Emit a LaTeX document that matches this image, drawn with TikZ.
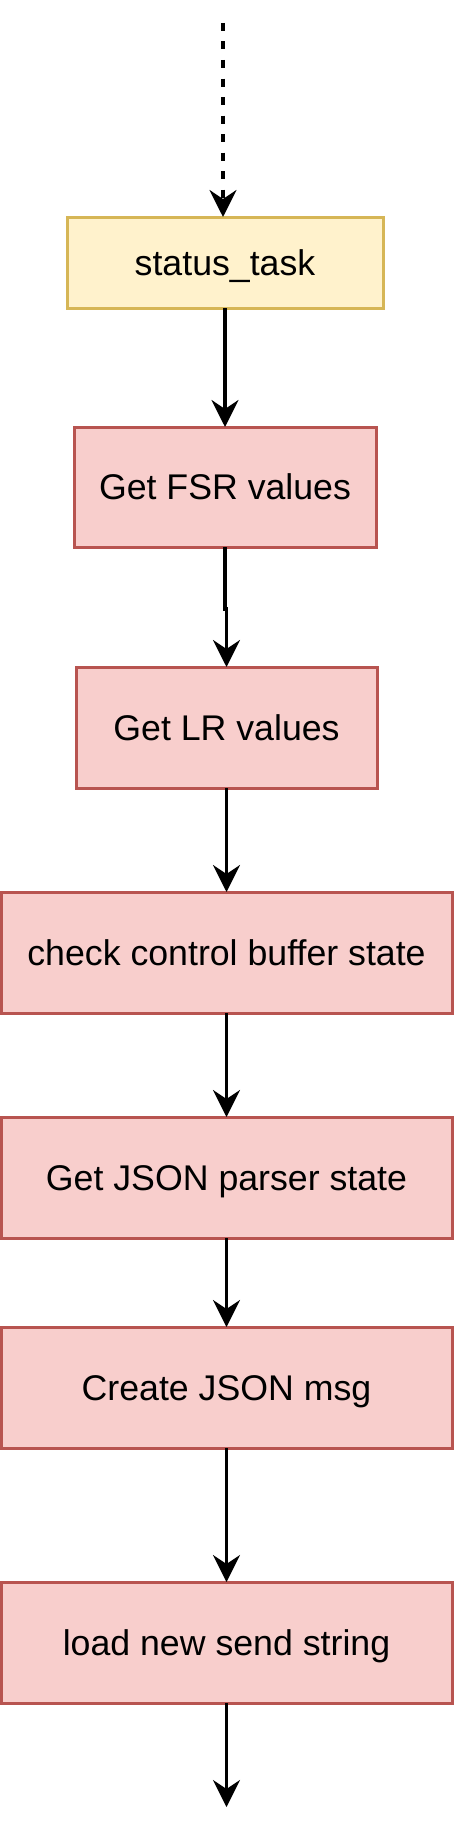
\documentclass[tikz,border=0pt]{standalone}
\usepackage{fontspec}
\setmainfont{Liberation Sans}
\usetikzlibrary{arrows.meta,calc}
\definecolor{yfill}{HTML}{FFF2CC}
\definecolor{ydraw}{HTML}{D6B656}
\definecolor{rfill}{HTML}{F8CECC}
\definecolor{rdraw}{HTML}{B85450}
\begin{document}
\begin{tikzpicture}[x=1pt,y=-1pt,
  box/.style={rectangle, line width=3pt, inner sep=0pt, outer sep=0pt,
    font=\fontsize{35.7}{42}\selectfont, text height=25.5pt, text depth=0pt},
  ybox/.style={box, draw=ydraw, fill=yfill},
  rbox/.style={box, draw=rdraw, fill=rfill},
  flow/.style={line width=3.4pt, -{Stealth[length=27pt,width=27pt,inset=9pt]}},
  dflow/.style={flow, dash pattern=on 8pt off 10.5pt},
]
\useasboundingbox (0,0) rectangle (456,1836);
\node[ybox, minimum width=316pt, minimum height=91pt] (task) at (225,262.5) {status\_task};
\node[rbox, minimum width=302pt, minimum height=120pt] (fsr) at (225,487) {Get FSR values};
\node[rbox, minimum width=301pt, minimum height=121pt] (lr) at (226.5,727.5) {Get LR values};
\node[rbox, minimum width=451pt, minimum height=121pt] (check) at (226.5,952.5) {check control buffer state};
\node[rbox, minimum width=451pt, minimum height=121pt] (parser) at (226.5,1177.5) {Get JSON parser state};
\node[rbox, minimum width=451pt, minimum height=121pt] (create) at (226.5,1387.5) {Create JSON msg};
\node[rbox, minimum width=451pt, minimum height=121pt] (load) at (226.5,1642.5) {load new send string};
\coordinate (start) at (223,23);
\coordinate (finish) at (226.5,1807);
\draw[dflow] (start) -- (start |- task.north);
\draw[flow] (task.south) -- (fsr.north);
\draw[flow] (fsr.south) -- ++(0,62) -| (lr.north);
\draw[flow] (lr.south) -- (check.north);
\draw[flow] (check.south) -- (parser.north);
\draw[flow] (parser.south) -- (create.north);
\draw[flow] (create.south) -- (load.north);
\draw[flow] (load.south) -- (finish);
\end{tikzpicture}
\end{document}
